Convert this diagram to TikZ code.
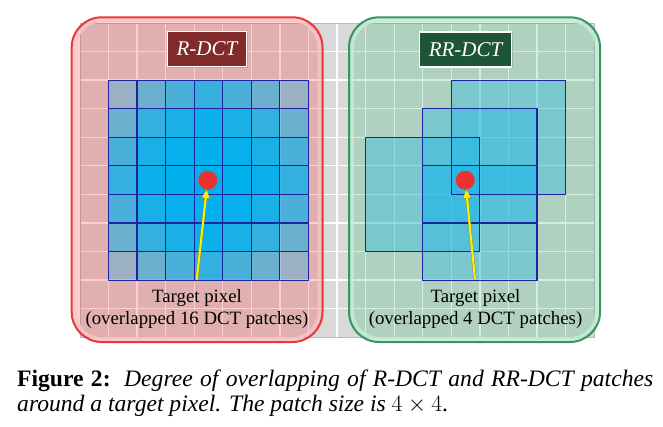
\RequirePackage{fix-cm}
\documentclass[tikz,border=0pt]{standalone}
\usepackage{fontspec}
\setmainfont{Liberation Serif}
\usetikzlibrary{arrows.meta,shadows}
\definecolor{panelgray}{RGB}{217,217,217}
\definecolor{boxred}{RGB}{232,56,61}
\definecolor{boxgreen}{RGB}{56,150,98}
\definecolor{fillgreen}{RGB}{0,176,80}
\definecolor{bandred}{RGB}{248,200,200}
\definecolor{bandgreen}{RGB}{200,236,212}
\definecolor{patchblue}{RGB}{0,176,240}
\definecolor{patchline}{RGB}{30,35,160}
\definecolor{lblred}{RGB}{128,42,42}
\definecolor{lblgreen}{RGB}{30,85,55}
\definecolor{dotred}{RGB}{235,50,50}
\definecolor{arrowedge}{RGB}{140,140,60}
\begin{document}
\begin{tikzpicture}[x=1pt,y=-1pt,
  patchfill/.style={fill=patchblue, fill opacity=0.3},
  patchedge/.style={draw=patchline, line width=1.1pt},
  lbl/.style={draw=white, line width=1.8pt, text=white, font=\fontsize{21}{25}\selectfont\itshape,
    minimum height=35pt, inner sep=0pt, drop shadow={shadow xshift=1.5pt, shadow yshift=-1.5pt, opacity=0.35}},
  tgt/.style={circle, fill=dotred, minimum size=19pt, inner sep=0pt},
  pointeredge/.style={draw=arrowedge, line width=2.8pt, -{Triangle[length=9pt,width=8.5pt]}},
  pointer/.style={draw=yellow, line width=2pt, -{Triangle[length=8pt,width=7pt]}},
  note/.style={align=center, font=\fontsize{18.8}{22}\selectfont, inner sep=0pt},
  capline/.style={anchor=base west, inner sep=0pt, font=\fontsize{23.6}{25}\selectfont, text height=15pt, text depth=4pt}
]
\useasboundingbox (0,0) rectangle (663,427);
\fill[white] (0,0) rectangle (663,427);
\def\cs{28.57}
% background panel with grid
\fill[panelgray] (79.9,23) rectangle (594.2,337.3);
\foreach \m in {1,...,17} \draw[white, line width=1.3pt] ({79.9+\m*\cs},23) -- ({79.9+\m*\cs},337.3);
\foreach \n in {1,...,10} \draw[white, line width=1.3pt] (79.9,{23+\n*\cs}) -- (594.2,{23+\n*\cs});
\draw[gray!55, line width=0.6pt] (79.9,23) rectangle (594.2,337.3);
% rounded boxes
\fill[red, fill opacity=0.19, rounded corners=30pt] (71.7,17.3) rectangle (322.5,342);
\draw[bandred, line width=3.5pt, opacity=0.8, rounded corners=27pt] (74.9,20.5) rectangle (319.3,338.8);
\draw[boxred, line width=2pt, rounded corners=30pt] (71.7,17.3) rectangle (322.5,342);
\fill[fillgreen, fill opacity=0.18, rounded corners=30pt] (349,17.3) rectangle (600,342);
\draw[bandgreen, line width=3.5pt, opacity=0.8, rounded corners=27pt] (352.2,20.5) rectangle (596.8,338.8);
\draw[boxgreen, line width=2pt, rounded corners=30pt] (349,17.3) rectangle (600,342);
% R-DCT patches (16 overlapping 4x4 patches)
\foreach \a in {0,...,3} \foreach \b in {0,...,3}
  \fill[patchfill] ({79.9+(1+\a)*\cs},{23+(2+\b)*\cs}) rectangle ++({4*\cs},{4*\cs});
\foreach \a in {0,...,3} \foreach \b in {0,...,3}
  \draw[patchedge] ({79.9+(1+\a)*\cs},{23+(2+\b)*\cs}) rectangle ++({4*\cs},{4*\cs});
% RR-DCT patches (4 patches)
\foreach \m/\n in {10/4,12/5,12/3,13/2}
  \fill[patchfill] ({79.9+\m*\cs},{23+\n*\cs}) rectangle ++({4*\cs},{4*\cs});
\foreach \m/\n in {10/4,12/5,12/3,13/2}
  \draw[patchedge] ({79.9+\m*\cs},{23+\n*\cs}) rectangle ++({4*\cs},{4*\cs});
% labels
\node[lbl, fill=lblred, minimum width=79pt] (t1) at (207,49) {R-DCT};
\node[lbl, fill=lblgreen, minimum width=92pt] (t2) at (465.5,49.2) {RR-DCT};
% target pixels
\node[tgt] (d1) at (207.7,180.2) {};
\node[tgt] (d2) at (465.3,180.2) {};
\coordinate (s1) at (196.7,280);
\coordinate (s2) at (475,279.5);
\draw[pointeredge] (s1) -- (d1);
\draw[pointer] (s1) -- (d1);
\draw[pointeredge] (s2) -- (d2);
\draw[pointer] (s2) -- (d2);
% notes
\node[note, anchor=north] (n1) at (197,289.5) {Target pixel\\(overlapped 16 DCT patches)};
\node[note, anchor=north] (n2) at (475.5,289.5) {Target pixel\\(overlapped 4 DCT patches)};
% caption
\node[capline] (c1) at (17,386.7) {\makebox[636pt][s]{\textbf{Figure 2:}\hspace{0.12em} \textit{Degree of overlapping of R-DCT and RR-DCT patches}}};
\node[capline] (c2) at (17,411.7) {\textit{around a target pixel. The patch size is} $4\times4$.};
\end{tikzpicture}
\end{document}
